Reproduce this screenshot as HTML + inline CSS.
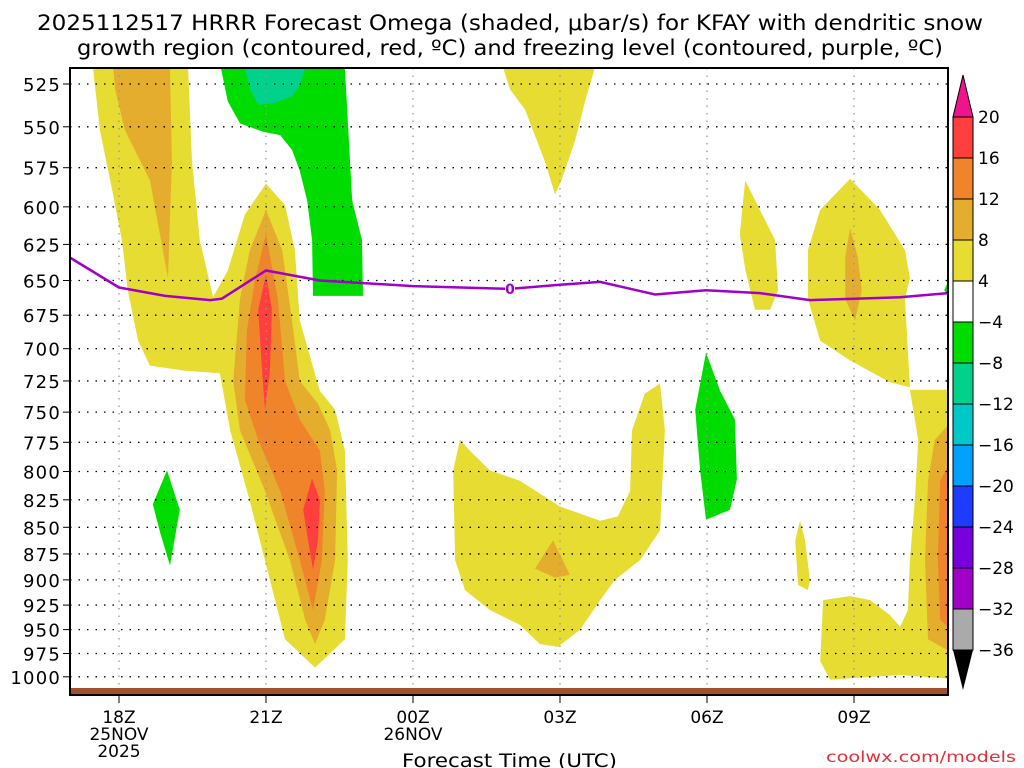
<!DOCTYPE html>
<html><head><meta charset="utf-8"><style>
body{margin:0;background:#fff;}
svg{display:block;font-family:"DejaVu Sans","Liberation Sans",sans-serif;}
</style></head><body>
<svg id="chart" width="1024" height="768" viewBox="0 0 1024 768">
<text x="37" y="30" font-size="21" textLength="946" lengthAdjust="spacingAndGlyphs">2025112517 HRRR Forecast Omega (shaded, μbar/s) for KFAY with dendritic snow</text>
<text x="77" y="55" font-size="21" textLength="866" lengthAdjust="spacingAndGlyphs">growth region (contoured, red, ºC) and freezing level (contoured, purple, ºC)</text>
<clipPath id="clip"><rect x="70" y="68" width="878" height="627"/></clipPath>
<g id="fills" clip-path="url(#clip)"></g>
<g id="grid"></g>
<g id="frz" clip-path="url(#clip)"></g>
<rect x="70" y="688" width="878" height="7" fill="#a0522d"/>
<rect x="70" y="68" width="878" height="627" fill="none" stroke="#000" stroke-width="2"/>
<g id="yaxis"></g>
<g id="xaxis"></g>
<text x="402" y="767" font-size="19" textLength="215" lengthAdjust="spacingAndGlyphs">Forecast Time (UTC)</text>
<text x="826" y="762" font-size="15" fill="#e0303a" textLength="190" lengthAdjust="spacingAndGlyphs">coolwx.com/models</text>
<g id="cbar"></g>
</svg>
<script>
const NS="http://www.w3.org/2000/svg";
const pTicks=[525,550,575,600,625,650,675,700,725,750,775,800,825,850,875,900,925,950,975,1000];
const hourTicks=[1,4,7,10,13,16];
const hourLabels=[["18Z","25NOV","2025"],["21Z"],["00Z","26NOV"],["03Z"],["06Z"],["09Z"]];
const frzHours=[0,1,1.94,2.86,3.1,4,5.1,7,8.98,10,10.82,11.94,12.98,14.08,15.1,16.94,17.92];
const frzPres=[634,655,661,664,663,643,650,654,656,653,651,660,657,659,664,662,659];
const cbarLevels=[20,16,12,8,4,-4,-8,-12,-16,-20,-24,-28,-32,-36];
const cbarColors=["#ff3e3e","#f0842b","#e5ad2d","#e6dc32","#ffffff","#00dc00","#00d28c","#00c8c8","#00a0ff","#1e3cff","#7800dc","#a000c8","#aaaaaa"];
const C={y:"#e6dc32",o:"#e5ad2d",d:"#f0842b",r:"#ff3e3e",g:"#00dc00",t:"#00d28c"};
const shapes=[
 ["y",[[0.47,516],[2.41,516],[2.49,571],[2.65,622],[2.92,662],[3.22,643],[3.57,605],[4.0,585],[4.39,599],[4.59,629],[4.69,679],[5.10,733],[5.41,748],[5.61,782],[5.67,881],[5.61,960],[5.0,990],[4.39,960],[4.08,900],[3.67,826],[3.27,765],[3.06,719],[2.35,717],[1.63,713],[1.39,694],[1.18,657],[1.06,622],[0.86,589],[0.61,552]]],
 ["o",[[0.88,516],[2.04,516],[2.08,571],[2.0,648],[1.63,583],[1.12,552],[0.92,528]]],
 ["o",[[4.0,602],[3.67,629],[3.47,663],[3.33,725],[3.47,765],[3.98,817],[4.49,881],[4.8,940],[5.0,965],[5.2,940],[5.41,881],[5.45,799],[5.31,765],[5.06,743],[4.69,725],[4.53,679],[4.33,629]]],
 ["d",[[4.0,618],[3.78,649],[3.61,686],[3.57,740],[3.84,773],[4.29,817],[4.69,881],[4.96,930],[5.14,881],[5.2,817],[5.1,782],[4.69,756],[4.39,725],[4.24,663]]],
 ["r",[[4.0,646],[3.84,671],[3.92,717],[3.98,748],[4.08,717],[4.12,671]]],
 ["r",[[4.94,806],[4.76,834],[4.86,862],[4.96,890],[5.06,862],[5.1,826]]],
 ["g",[[3.08,516],[3.22,535],[3.47,548],[3.94,553],[4.29,555],[4.53,564],[4.69,577],[4.84,596],[4.94,622],[4.96,661],[5.98,661],[5.96,622],[5.76,596],[5.61,516]]],
 ["t",[[3.57,516],[4.8,516],[4.69,526],[4.53,532],[4.18,536],[3.84,537],[3.67,528]]],
 ["g",[[1.98,799],[2.24,834],[2.04,886],[1.84,855],[1.69,829]]],
 ["g",[[12.98,703],[13.27,733],[13.57,756],[13.61,807],[13.47,834],[12.98,843],[12.86,799],[12.76,748]]],
 ["y",[[8.84,516],[10.71,516],[10.51,535],[10.31,558],[10.04,582],[9.9,592],[9.69,571],[9.29,540],[8.98,528]]],
 ["y",[[7.96,773],[8.16,782],[8.57,799],[9.18,808],[10.0,831],[10.82,844],[11.18,840],[11.43,817],[11.47,765],[11.73,735],[12.04,727],[12.14,765],[12.04,853],[11.63,881],[11.12,900],[10.82,920],[10.41,950],[9.96,968],[9.59,965],[9.18,945],[8.57,930],[8.06,910],[7.86,881],[7.82,799]]],
 ["o",[[9.86,862],[10.2,895],[9.9,898],[9.49,889]]],
 ["y",[[13.78,583],[14.08,602],[14.39,622],[14.45,657],[14.29,671],[13.98,671],[13.78,642],[13.67,618]]],
 ["y",[[15.92,582],[16.53,602],[17.04,629],[17.14,648],[17.04,663],[17.14,730],[16.73,726],[15.92,709],[15.31,694],[15.06,663],[15.06,629],[15.31,602]]],
 ["o",[[15.92,614],[16.08,634],[16.16,657],[16.02,679],[15.82,663],[15.82,634]]],
 ["y",[[14.9,844],[15.0,862],[15.1,900],[15.06,910],[14.86,905],[14.8,862]]],
 ["y",[[17.14,732],[18.2,732],[18.2,1003],[16.94,998],[15.51,1003],[15.31,983],[15.37,920],[15.92,916],[16.33,920],[16.73,935],[16.94,947],[17.1,930],[17.14,881],[17.24,826],[17.31,773]]],
 ["o",[[18.2,748],[17.65,773],[17.51,808],[17.45,881],[17.51,960],[18.2,980]]],
 ["d",[[18.2,773],[17.76,808],[17.71,881],[17.76,940],[18.2,960]]],
 ["g",[[18.2,629],[17.84,657],[18.2,679]]]
];
const X=h=>70+49*h;
const Y=p=>84+920*Math.log(p/525);
function el(tag,attrs,parent){const e=document.createElementNS(NS,tag);for(const k in attrs)e.setAttribute(k,attrs[k]);parent.appendChild(e);return e;}
const fills=document.getElementById('fills');
shapes.forEach((s,i)=>{
 const poly=el('polygon',{points:s[1].map(q=>X(q[0]).toFixed(1)+','+Y(q[1]).toFixed(1)).join(' '),fill:C[s[0]]},fills);
 
 
});
const grid=document.getElementById('grid'),ya=document.getElementById('yaxis'),xa=document.getElementById('xaxis');
pTicks.forEach(p=>{
 const l=el('line',{x1:70,x2:948,y1:Y(p),y2:Y(p),stroke:'#000','stroke-width':1.3,'stroke-dasharray':'1.5,7'},grid);
 
 
 const t=el('text',{x:61,y:Y(p)+7,'font-size':18,'text-anchor':'end','letter-spacing':'1.2'},ya);
 t.textContent=p;
 
 
 el('line',{x1:63,x2:70,y1:Y(p),y2:Y(p),stroke:'#000'},ya);
});
hourTicks.forEach((h,i)=>{
 const l=el('line',{x1:X(h),x2:X(h),y1:68,y2:695,stroke:'#999','stroke-width':1.3,'stroke-dasharray':'1.5,6'},grid);
 
 
 el('line',{x1:X(h),x2:X(h),y1:695,y2:703,stroke:'#000'},xa);
 hourLabels[i].forEach((s,j)=>{
  const t=el('text',{x:X(h),y:723+j*17,'font-size':17,'text-anchor':'middle'},xa);
  t.textContent=s;
  
  
 });
});
const frz=document.getElementById('frz');
const pl=el('polyline',{points:frzHours.map((h,i)=>X(h).toFixed(1)+','+Y(frzPres[i]).toFixed(1)).join(' '),fill:'none',stroke:'#a000c8','stroke-width':2.5},frz);


const lh=8.98,lp=656;
el('rect',{x:X(lh)-5,y:Y(lp)-8,width:10,height:15,fill:'#fff'},frz);
const lt=el('text',{x:X(lh),y:Y(lp)+5,'font-size':14,'font-weight':'bold',fill:'#a000c8','text-anchor':'middle'},frz);
lt.textContent='0';


const cb=document.getElementById('cbar');
const cTop=117,cStep=41,cx=953,cw=20;
el('polygon',{points:`${cx},${cTop} ${cx+cw},${cTop} ${cx+cw/2},${cTop-42}`,fill:'#f0148c',stroke:'#000'},cb);
cbarColors.forEach((c,i)=>{
 const r=el('rect',{x:cx,y:cTop+i*cStep,width:cw,height:cStep,fill:c,stroke:'#000','stroke-width':1},cb);
 
 
});
const cBot=cTop+cbarColors.length*cStep;
el('polygon',{points:`${cx},${cBot} ${cx+cw},${cBot} ${cx+cw/2},${cBot+40}`,fill:'#000'},cb);
cbarLevels.forEach((v,i)=>{
 const t=el('text',{x:978,y:cTop+i*cStep+6,'font-size':17},cb);
 t.textContent=v<0?'−'+(-v):v;
 
 
});
</script>
</body></html>
